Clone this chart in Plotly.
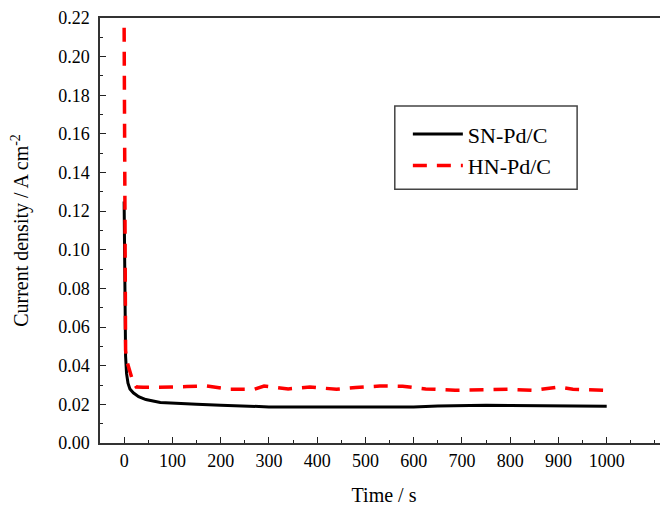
import plotly.graph_objects as go

# SN-Pd/C
sn_t = [0, 0.5, 1, 1.5, 2, 3, 5, 8, 12, 19, 30, 45, 75, 100, 150, 200, 250, 300, 350, 400, 450, 500, 550, 600, 650, 700, 750, 800, 850, 900, 950, 1000]
sn_j = [0.125, 0.10, 0.08, 0.065, 0.055, 0.045, 0.036, 0.031, 0.028, 0.026, 0.024, 0.0225, 0.021, 0.0206, 0.0201, 0.0196, 0.0191, 0.0187, 0.0186, 0.0186, 0.0186, 0.0186, 0.0186, 0.0186, 0.0191, 0.0194, 0.0195, 0.0194, 0.0193, 0.0192, 0.0191, 0.0190]

# HN-Pd/C
hn_t = [0, 0.5, 1, 1.5, 2, 3, 5, 8, 12, 18, 25, 40, 60, 100, 130, 171, 220, 270, 290, 340, 385, 440, 480, 530, 577, 625, 686, 740, 795, 850, 900, 930, 987, 1000]
hn_j = [0.215, 0.17, 0.12, 0.08, 0.06, 0.048, 0.043, 0.040, 0.037, 0.032, 0.029, 0.0288, 0.029, 0.029, 0.0292, 0.0295, 0.0278, 0.0278, 0.0295, 0.028, 0.029, 0.0278, 0.0287, 0.0295, 0.0294, 0.028, 0.0273, 0.0277, 0.0278, 0.0273, 0.029, 0.0278, 0.0273, 0.0272]

x_ticks = [0, 100, 200, 300, 400, 500, 600, 700, 800, 900, 1000]
y_ticks = [0.00, 0.02, 0.04, 0.06, 0.08, 0.10, 0.12, 0.14, 0.16, 0.18, 0.20, 0.22]

font = "Liberation Serif"

fig = go.Figure()
fig.add_trace(go.Scatter(x=sn_t, y=sn_j, mode="lines", name="SN-Pd/C",
                         line=dict(color="black", width=3)))
fig.add_trace(go.Scatter(x=hn_t, y=hn_j, mode="lines", name="HN-Pd/C",
                         line=dict(color="#ff0000", width=3.5, dash="14px,10px")))

fig.update_layout(
    width=660, height=498,
    margin=dict(l=92, r=0, t=10, b=63),
    paper_bgcolor="white", plot_bgcolor="white",
    font=dict(family=font, color="black", size=18),
    showlegend=True,
    legend=dict(x=0.542, y=0.776, xanchor="left", yanchor="top",
                borderwidth=0, bgcolor="rgba(0,0,0,0)",
                font=dict(family=font, size=22), itemwidth=50,
                tracegroupgap=0),
    shapes=[dict(type="rect", xref="paper", yref="paper",
                 x0=0.519, x1=0.840, y0=0.597, y1=0.793,
                 line=dict(color="#444", width=1.5), layer="above")],
    xaxis=dict(range=[-50, 1127], tickvals=x_ticks,
               ticktext=[str(v) for v in x_ticks],
               ticks="inside", ticklen=6, tickwidth=1.2, tickcolor="#222",
               minor=dict(dtick=50, tick0=0, ticks="inside", ticklen=3, tickwidth=1.2, tickcolor="#222"),
               showline=True, linecolor="#333", linewidth=1.5, mirror=True,
               showgrid=False, zeroline=False, automargin=False,
               tickfont=dict(family=font, size=18), ticklabelstandoff=1,
               title=dict(text="Time / s", font=dict(family=font, size=20), standoff=20)),
    yaxis=dict(range=[0, 0.22], tickvals=y_ticks,
               ticktext=["%.2f" % v for v in y_ticks],
               ticks="inside", ticklen=6, tickwidth=1.2, tickcolor="#222",
               minor=dict(dtick=0.01, tick0=0, ticks="inside", ticklen=3, tickwidth=1.2, tickcolor="#222"),
               showline=True, linecolor="#333", linewidth=1.5, mirror=False,
               showgrid=False, zeroline=False, automargin=False,
               tickfont=dict(family=font, size=18), ticklabelstandoff=5,
               title=dict(text="Current density / A cm<sup>-2</sup>", font=dict(family=font, size=20), standoff=24)),
)

fig.write_html("out.html")
